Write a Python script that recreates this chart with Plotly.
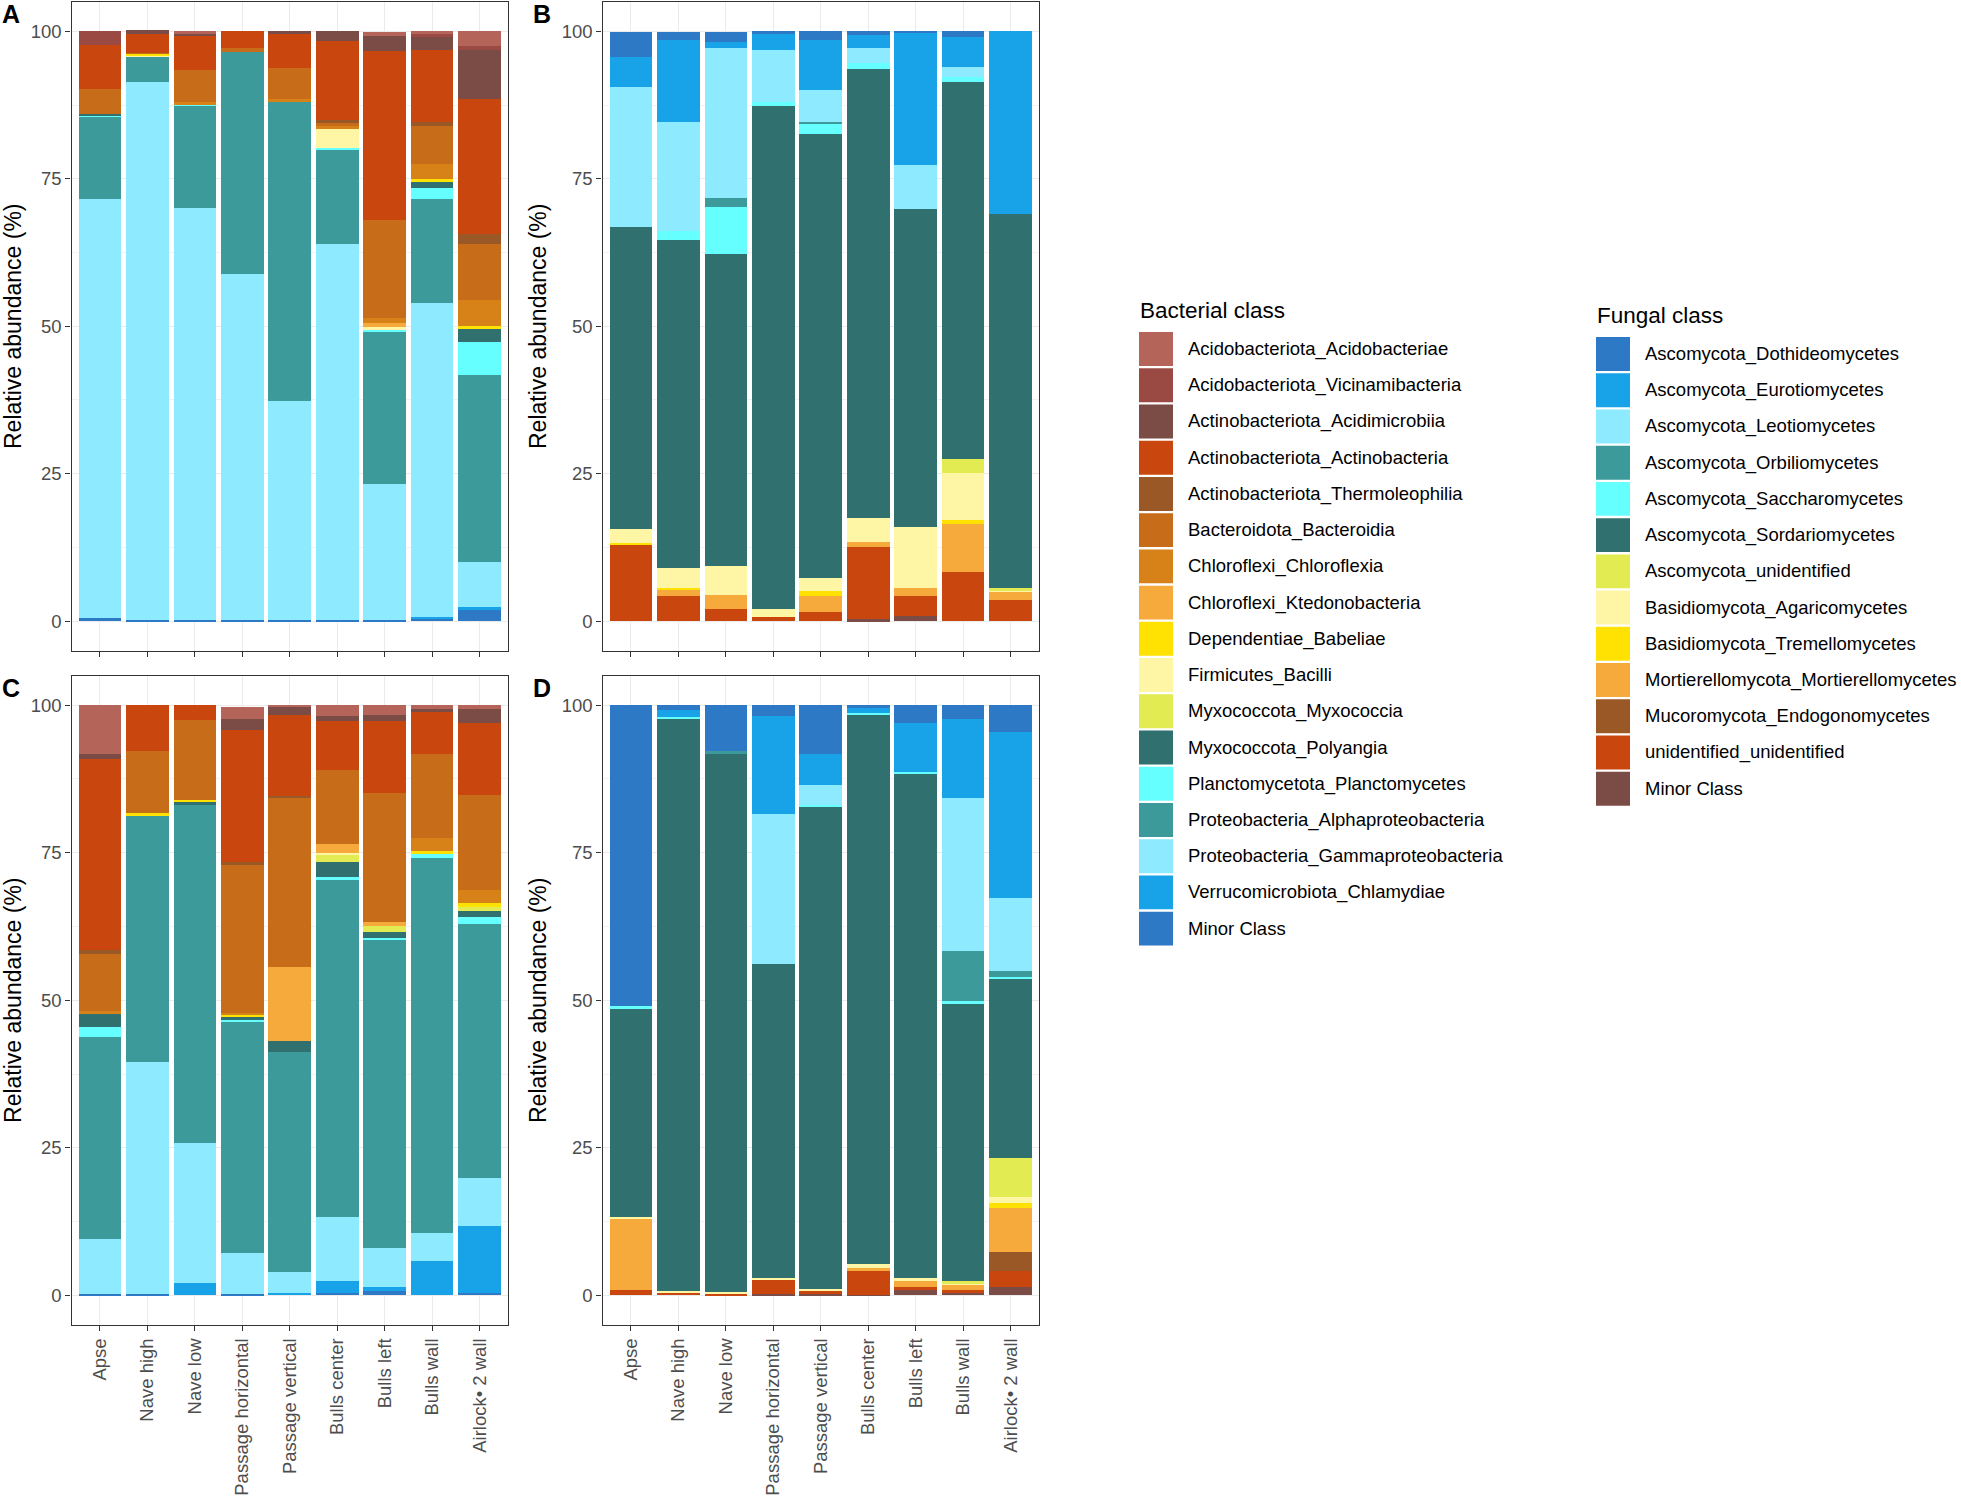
import plotly.graph_objects as go

W, H = 1961, 1496
FONT = "Liberation Sans, Arial, Helvetica, sans-serif"

SAMPLES = ["Apse", "Nave high", "Nave low", "Passage horizontal", "Passage vertical",
           "Bulls center", "Bulls left", "Bulls wall", "Airlock\u2022 2 wall"]

# ---------------- legend categories (top of stack first) ----------------
BAC_CLASSES = ["Acidobacteriota_Acidobacteriae", "Acidobacteriota_Vicinamibacteria",
               "Actinobacteriota_Acidimicrobiia", "Actinobacteriota_Actinobacteria",
               "Actinobacteriota_Thermoleophilia", "Bacteroidota_Bacteroidia",
               "Chloroflexi_Chloroflexia", "Chloroflexi_Ktedonobacteria",
               "Dependentiae_Babeliae", "Firmicutes_Bacilli", "Myxococcota_Myxococcia",
               "Myxococcota_Polyangia", "Planctomycetota_Planctomycetes",
               "Proteobacteria_Alphaproteobacteria", "Proteobacteria_Gammaproteobacteria",
               "Verrucomicrobiota_Chlamydiae", "Minor Class"]
BAC_COLORS = ["#b5645a", "#9a4a42", "#7b4c45", "#c9470e", "#9b5827", "#c76c18",
              "#d78219", "#f6aa3c", "#ffe201", "#fef5a5", "#e2ec52", "#30706e",
              "#66ffff", "#3d9a9b", "#8eeafe", "#18a3e8", "#2e79c6"]

FUN_CLASSES = ["Ascomycota_Dothideomycetes", "Ascomycota_Eurotiomycetes",
               "Ascomycota_Leotiomycetes", "Ascomycota_Orbiliomycetes",
               "Ascomycota_Saccharomycetes", "Ascomycota_Sordariomycetes",
               "Ascomycota_unidentified", "Basidiomycota_Agaricomycetes",
               "Basidiomycota_Tremellomycetes", "Mortierellomycota_Mortierellomycetes",
               "Mucoromycota_Endogonomycetes", "unidentified_unidentified", "Minor Class"]
FUN_COLORS = ["#2e79c6", "#18a3e8", "#8eeafe", "#3d9a9b", "#66ffff", "#30706e",
              "#e2ec52", "#fef5a5", "#ffe201", "#f6aa3c", "#9b5827", "#c9470e", "#7b4c45"]

# ---------------- Panel A: bacteria (relative abundance %) ----------------
a_acidobacteriae = [0, 0, 0.5, 0, 0, 0, 0.7, 0.6, 2.5]
a_vicinamibacteria = [2.5, 0, 0, 0, 0, 0, 0, 0.4, 0.7]
a_acidimicrobiia = [0, 0.6, 0.4, 0, 0.4, 1.6, 2.5, 2.2, 8.2]
a_actinobacteria = [7.3, 3.2, 5.8, 2.8, 5.8, 13.5, 28.7, 12.3, 22.9]
a_thermoleophilia = [0, 0, 0, 0, 0, 0.4, 0, 0.6, 1.7]
a_bacteroidia = [4.3, 0.2, 5.4, 0.7, 5.3, 0.5, 16.6, 6.5, 9.6]
a_chloroflexia = [0, 0, 0.3, 0, 0.3, 0.5, 0.9, 2.6, 4.3]
a_ktedonobacteria = [0, 0, 0, 0, 0, 0, 0.7, 0, 0]
a_babeliae = [0, 0.2, 0, 0, 0, 0, 0, 0.5, 0.5]
a_bacilli = [0, 0.2, 0, 0, 0, 3.2, 0.3, 0, 0]
a_myxococcia = [0, 0, 0, 0, 0, 0, 0, 0, 0]
a_polyangia = [0.2, 0, 0, 0, 0, 0, 0, 0.9, 2.2]
a_planctomycetes = [0.4, 0, 0.3, 0, 0, 0.4, 0.3, 2.0, 5.7]
a_alphaproteobacteria = [13.9, 4.4, 17.3, 37.6, 50.9, 15.9, 26.0, 17.6, 31.7]
a_gammaproteobacteria = [71.0, 91.2, 69.9, 58.7, 37.1, 63.8, 23.0, 53.2, 7.6]
a_chlamydiae = [0, 0, 0, 0, 0, 0, 0, 0.2, 0.5]
a_minor = [0.5, 0.2, 0.2, 0.2, 0.2, 0.2, 0.2, 0.5, 1.9]

# ---------------- Panel C: bacteria ----------------
c_acidobacteriae = [8.3, 0, 0, 2.1, 0.35, 1.8, 1.6, 0.8, 0.7]
c_vicinamibacteria = [0, 0, 0, 0, 0, 0, 0, 0, 0]
c_acidimicrobiia = [0.8, 0, 0, 1.9, 1.4, 0.9, 1.1, 0.45, 2.3]
c_actinobacteria = [32.3, 7.7, 2.5, 22.4, 13.6, 8.25, 12.1, 7.2, 12.3]
c_thermoleophilia = [0.65, 0, 0, 0.35, 0.3, 0, 0, 0, 0]
c_bacteroidia = [9.8, 10.6, 13.5, 25.2, 28.7, 12.6, 21.9, 14.2, 16.05]
c_chloroflexia = [0.4, 0, 0, 0.35, 0, 0, 0, 2.2, 2.1]
c_ktedonobacteria = [0, 0, 0, 0, 12.5, 1.45, 0.8, 0, 0]
c_babeliae = [0, 0.5, 0.4, 0.35, 0, 0, 0, 0.55, 0.8]
c_bacilli = [0, 0, 0, 0, 0, 0.2, 0, 0, 0]
c_myxococcia = [0, 0, 0, 0, 0, 1.35, 1.0, 0, 0.65]
c_polyangia = [2.3, 0, 0.45, 0.3, 1.85, 2.5, 1.0, 0, 0.95]
c_planctomycetes = [1.6, 0, 0, 0.3, 0, 0.3, 0.35, 0.6, 1.15]
c_alphaproteobacteria = [34.2, 41.6, 57.3, 39.3, 37.3, 57.3, 52.2, 63.6, 43.1]
c_gammaproteobacteria = [9.45, 39.3, 23.7, 7.0, 3.6, 10.8, 6.5, 4.6, 8.1]
c_chlamydiae = [0, 0, 2.15, 0, 0.4, 2.15, 0.75, 5.9, 11.45]
c_minor = [0.15, 0.3, 0, 0.2, 0, 0.35, 0.7, 0, 0.35]

# ---------------- Panel B: fungi ----------------
b_dothideomycetes = [4.35, 1.4, 1.75, 0.5, 1.4, 0.7, 0.35, 1.05, 0]
b_eurotiomycetes = [5.1, 13.9, 1.05, 2.65, 8.5, 2.1, 22.3, 5.05, 31.0]
b_leotiomycetes = [23.6, 18.5, 25.4, 8.9, 5.55, 2.6, 7.6, 1.7, 0]
b_orbiliomycetes = [0, 0, 1.55, 0, 0.2, 0, 0, 0, 0]
b_saccharomycetes = [0, 1.6, 7.9, 0.55, 1.75, 1.05, 0, 0.75, 0]
b_sordariomycetes = [51.2, 55.6, 52.9, 85.4, 75.3, 76.1, 53.8, 64.0, 63.4]
b_asco_unidentified = [0, 0, 0, 0, 0, 0, 0, 2.25, 0.3]
b_agaricomycetes = [2.4, 3.35, 4.9, 1.3, 2.1, 4.0, 10.45, 8.1, 0.25]
b_tremellomycetes = [0.4, 0.35, 0, 0, 0.85, 0, 0, 0.7, 0]
b_mortierellomycetes = [0, 1.05, 2.5, 0, 2.8, 0.85, 1.35, 8.05, 1.4]
b_endogonomycetes = [0, 0, 0, 0, 0, 0, 0, 0, 0]
b_unidentified = [12.9, 4.2, 2.0, 0.7, 1.55, 12.3, 3.35, 8.35, 3.65]
b_minor = [0, 0, 0, 0, 0, 0.3, 0.85, 0, 0]

# ---------------- Panel D: fungi ----------------
d_dothideomycetes = [50.9, 0.85, 7.85, 1.8, 8.25, 0.6, 3.0, 2.3, 4.5]
d_eurotiomycetes = [0, 1.15, 0, 16.7, 5.35, 0.8, 8.35, 13.3, 28.2]
d_leotiomycetes = [0, 0, 0, 25.3, 3.25, 0, 0, 26.0, 12.4]
d_orbiliomycetes = [0, 0, 0.2, 0, 0, 0, 0, 8.5, 0.95]
d_saccharomycetes = [0.5, 0.2, 0, 0, 0.35, 0.2, 0.2, 0.55, 0.2]
d_sordariomycetes = [35.4, 97.0, 91.45, 53.25, 81.65, 93.25, 85.6, 46.95, 30.45]
d_asco_unidentified = [0, 0, 0, 0, 0, 0, 0, 0.3, 6.7]
d_agaricomycetes = [0.2, 0.3, 0.2, 0.35, 0.2, 0.7, 0.45, 0.35, 1.0]
d_tremellomycetes = [0, 0, 0, 0, 0, 0, 0, 0, 0.85]
d_mortierellomycetes = [12.05, 0, 0, 0, 0, 0.3, 1.0, 0.85, 7.35]
d_endogonomycetes = [0, 0, 0, 0, 0, 0, 0, 0, 3.25]
d_unidentified = [0.95, 0.5, 0.3, 2.45, 0.8, 4.15, 0.6, 0.45, 2.7]
d_minor = [0, 0, 0, 0.15, 0.15, 0.1, 0.85, 0.4, 1.45]

A_VALUES = [a_acidobacteriae, a_vicinamibacteria, a_acidimicrobiia, a_actinobacteria,
            a_thermoleophilia, a_bacteroidia, a_chloroflexia, a_ktedonobacteria, a_babeliae,
            a_bacilli, a_myxococcia, a_polyangia, a_planctomycetes, a_alphaproteobacteria,
            a_gammaproteobacteria, a_chlamydiae, a_minor]
C_VALUES = [c_acidobacteriae, c_vicinamibacteria, c_acidimicrobiia, c_actinobacteria,
            c_thermoleophilia, c_bacteroidia, c_chloroflexia, c_ktedonobacteria, c_babeliae,
            c_bacilli, c_myxococcia, c_polyangia, c_planctomycetes, c_alphaproteobacteria,
            c_gammaproteobacteria, c_chlamydiae, c_minor]
B_VALUES = [b_dothideomycetes, b_eurotiomycetes, b_leotiomycetes, b_orbiliomycetes,
            b_saccharomycetes, b_sordariomycetes, b_asco_unidentified, b_agaricomycetes,
            b_tremellomycetes, b_mortierellomycetes, b_endogonomycetes, b_unidentified, b_minor]
D_VALUES = [d_dothideomycetes, d_eurotiomycetes, d_leotiomycetes, d_orbiliomycetes,
            d_saccharomycetes, d_sordariomycetes, d_asco_unidentified, d_agaricomycetes,
            d_tremellomycetes, d_mortierellomycetes, d_endogonomycetes, d_unidentified, d_minor]


def px_x(p):
    return p / W


def px_y(p):
    return 1 - p / H


fig = go.Figure()

panels = [
    ("x", "y", A_VALUES, BAC_CLASSES, BAC_COLORS),
    ("x2", "y2", B_VALUES, FUN_CLASSES, FUN_COLORS),
    ("x3", "y3", C_VALUES, BAC_CLASSES, BAC_COLORS),
    ("x4", "y4", D_VALUES, FUN_CLASSES, FUN_COLORS),
]
for xa, ya, vals, names, cols in panels:
    # ggplot stacks the first legend level on top -> add from the last level upward
    for v, n, c in reversed(list(zip(vals, names, cols))):
        fig.add_trace(go.Bar(x=SAMPLES, y=v, name=n, marker=dict(color=c, line=dict(width=0)),
                             xaxis=xa, yaxis=ya, showlegend=False, legendgroup=n))

# panel geometry (pixels)
COLS = [(71.5, 508.0), (602.5, 1039.0)]
ROWS = [(0.8, 651.0), (676.0, 1326.5)]

axis_common = dict(showline=True, mirror=True, linecolor="#333333", linewidth=1.3,
                   ticks="outside", ticklen=5, tickwidth=1.3, tickcolor="#333333",
                   showgrid=True, gridcolor="#ebebeb", gridwidth=1.3, zeroline=False,
                   tickfont=dict(family=FONT, size=18.5, color="#4d4d4d"))

layout_axes = {}
for i, (xa, ya) in enumerate([("xaxis", "yaxis"), ("xaxis2", "yaxis2"),
                              ("xaxis3", "yaxis3"), ("xaxis4", "yaxis4")]):
    col = COLS[i % 2]
    row = ROWS[i // 2]
    xs = "x" if i == 0 else f"x{i + 1}"
    ys = "y" if i == 0 else f"y{i + 1}"
    layout_axes[xa] = dict(axis_common, domain=[px_x(col[0]), px_x(col[1])], anchor=ys,
                           type="category", categoryorder="array", categoryarray=SAMPLES,
                           range=[-0.6, len(SAMPLES) - 0.4], tickangle=-90,
                           showticklabels=(i >= 2))
    layout_axes[ya] = dict(axis_common, domain=[px_y(row[1]), px_y(row[0])], anchor=xs,
                           range=[-5, 105], tickvals=[0, 25, 50, 75, 100],
                           ticktext=["0", "25", "50", "75", "100"],
                           minor=dict(tickvals=[12.5, 37.5, 62.5, 87.5], showgrid=True,
                                      gridcolor="#f2f2f2", gridwidth=0.8, ticks=""),
                           title=dict(text="Relative abundance (%)",
                                      font=dict(family=FONT, size=23, color="black"),
                                      standoff=8))

annotations = []
shapes = []
# panel letters
for letter, xp, yp in [("A", 10.5, 13), ("B", 542, 13), ("C", 10.5, 688), ("D", 542, 688)]:
    annotations.append(dict(text=f"<b>{letter}</b>", x=px_x(xp), y=px_y(yp), xref="paper",
                            yref="paper", xanchor="center", yanchor="middle", showarrow=False,
                            font=dict(family=FONT, size=25, color="black")))


def draw_legend(title, names, cols, x_key, title_y, first_top):
    annotations.append(dict(text=title, x=px_x(x_key - 1), y=px_y(title_y), xref="paper",
                            yref="paper", xanchor="left", yanchor="middle", showarrow=False,
                            font=dict(family=FONT, size=22.5, color="black")))
    step, size = 36.3, 34.0
    for k, (n, c) in enumerate(zip(names, cols)):
        top = first_top + k * step
        shapes.append(dict(type="rect", xref="paper", yref="paper",
                           x0=px_x(x_key), x1=px_x(x_key + size),
                           y0=px_y(top + size), y1=px_y(top),
                           fillcolor=c, line=dict(width=0)))
        annotations.append(dict(text=n, x=px_x(x_key + size + 13), y=px_y(top + size / 2),
                                xref="paper", yref="paper", xanchor="left", yanchor="middle",
                                showarrow=False,
                                font=dict(family=FONT, size=18.5, color="black")))


draw_legend("Bacterial class", BAC_CLASSES, BAC_COLORS, 1139, 310, 331.7)
draw_legend("Fungal class", FUN_CLASSES, FUN_COLORS, 1596, 315, 336.7)

fig.update_layout(
    width=W, height=H, autosize=False,
    margin=dict(l=0, r=0, t=0, b=0),
    paper_bgcolor="white", plot_bgcolor="white",
    barmode="stack", bargap=0.1,
    showlegend=False,
    font=dict(family=FONT, color="black"),
    annotations=annotations, shapes=shapes,
    **layout_axes,
)

# remove the browser's default 8px body margin so the figure sits at the page origin
fig.write_html("out.html", config={"displayModeBar": False},
               post_script="document.body.style.margin='0';document.body.style.overflow='hidden';")
